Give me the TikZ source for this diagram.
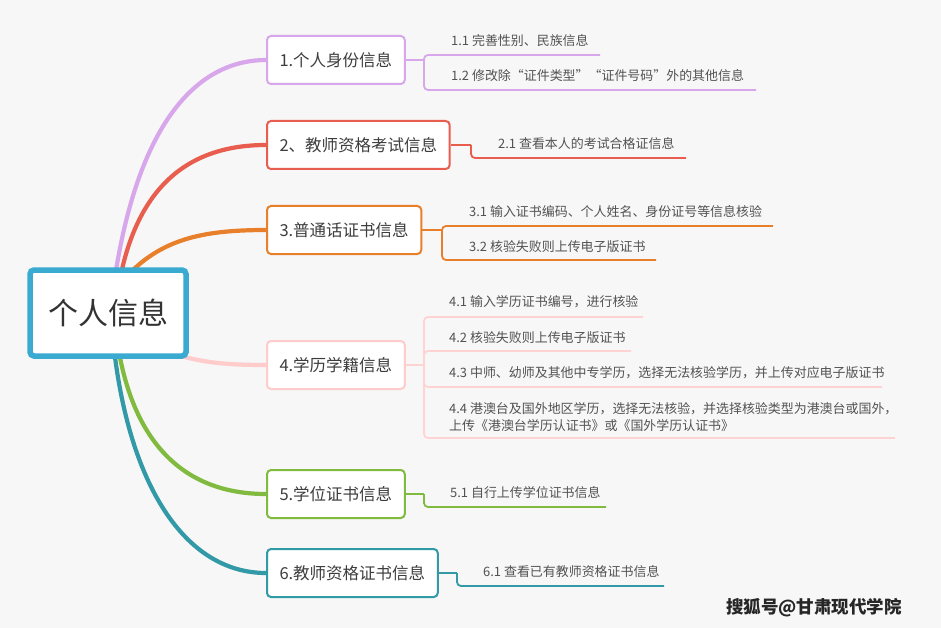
\documentclass[tikz,border=0pt]{standalone}
\usepackage{fontspec}
\setmainfont{Noto Sans CJK SC}
\usetikzlibrary{backgrounds}
\begin{document}
\begin{tikzpicture}[x=1pt,y=-1pt,
  l1/.style={draw=#1,line width=2pt,fill=white,rounded corners=4pt,anchor=west,
    minimum height=48pt,inner xsep=12.5pt,font=\fontsize{16.5}{18}\selectfont,text=black!76},
  br/.style={draw=#1,line width=4.2pt,line cap=round},
  sub/.style={draw=#1,line width=1.8pt,rounded corners=4pt},
  ct/.style={anchor=west,inner sep=0pt,font=\fontsize{12.95}{17.5}\selectfont,text=black!68,align=left}]
\definecolor{bgc}{HTML}{F7F7F7}
\definecolor{cpur}{HTML}{D8A6EA}
\definecolor{cred}{HTML}{E85D4D}
\definecolor{cora}{HTML}{E87F2B}
\definecolor{cpink}{HTML}{FFCBCB}
\definecolor{cgrn}{HTML}{80BA3F}
\definecolor{cteal}{HTML}{3299A6}
\definecolor{croot}{HTML}{3AAAD1}
\useasboundingbox (0,0) rectangle (941,628);

% level-1 boxes
\node[l1=cpur]  (b1) at (266,60)  {1.个人身份信息};
\node[l1=cred]  (b2) at (266,145) {2、教师资格考试信息};
\node[l1=cora]  (b3) at (266,230) {3.普通话证书信息};
\node[l1=cpink] (b4) at (266,365) {4.学历学籍信息};
\node[l1=cgrn]  (b5) at (266,494) {5.学位证书信息};
\node[l1=cteal] (b6) at (266,573) {6.教师资格证书信息};

% root
\node[draw=croot,line width=5.5pt,fill=white,rounded corners=4pt,
  minimum width=156pt,minimum height=86pt,
  font=\fontsize{30}{34}\selectfont,text=black!80] (root) at (108,313) {个人信息};

% main branches start points (hidden under the root)
\coordinate (s1) at (113,290);
\coordinate (s2) at (118,290);
\coordinate (s3) at (125,278);
\coordinate (s4) at (150,345);
\coordinate (s5) at (117,340);
\coordinate (s6) at (113,340);

\begin{scope}[on background layer]
\fill[bgc] (0,0) rectangle (941,628);
\draw[br=cpur]  (s1) .. controls (138,110) and (205,60) .. (b1.west);
\draw[br=cred]  (s2) .. controls (135,185) and (190,145) .. (b2.west);
\draw[br=cora]  (s3) .. controls (160,240) and (200,230) .. (b3.west);
\draw[br=cpink] (s4) .. controls (190,362) and (220,365) .. (b4.west);
\draw[br=cgrn]  (s5) .. controls (133,450) and (190,494) .. (b5.west);
\draw[br=cteal] (s6) .. controls (128,485) and (185,573) .. (b6.west);
\end{scope}

% sub-topic end points
\coordinate (k1) at (424,60);
\coordinate (u11) at (600,55);
\coordinate (u12) at (756,90);
\coordinate (k2) at (471,145);
\coordinate (u21) at (686,158);
\coordinate (k3) at (442,230);
\coordinate (u31) at (773,226);
\coordinate (u32) at (656,260);
\coordinate (k4) at (424,365);
\coordinate (u41) at (643,317);
\coordinate (u42) at (631,351);
\coordinate (u43) at (882,387);
\coordinate (u44) at (895,438);
\coordinate (k5) at (424,494);
\coordinate (u51) at (606,507);
\coordinate (k6) at (457,573);
\coordinate (u61) at (664,586);

\draw[sub=cpur] (b1.east) -- (k1);
\draw[sub=cpur] (k1) |- (u11);
\draw[sub=cpur] (k1) |- (u12);
\draw[sub=cred] (b2.east) -- (k2);
\draw[sub=cred] (k2) |- (u21);
\draw[sub=cora] (b3.east) -- (k3);
\draw[sub=cora] (k3) |- (u31);
\draw[sub=cora] (k3) |- (u32);
\draw[sub=cpink!85] (b4.east) -- (k4);
\draw[sub=cpink!85] (k4) |- (u41);
\draw[sub=cpink!85] (k4) |- (u42);
\draw[sub=cpink!85] (k4) |- (u43);
\draw[sub=cpink!85] (k4) |- (u44);
\draw[sub=cgrn] (b5.east) -- (k5);
\draw[sub=cgrn] (k5) |- (u51);
\draw[sub=cteal] (b6.east) -- (k6);
\draw[sub=cteal] (k6) |- (u61);

% sub-topic texts
\node[ct] (t11) at (451,41) {1.1 完善性别、民族信息};
\node[ct] (t12) at (451,76) {1.2 修改除“证件类型”“证件号码”外的其他信息};
\node[ct] (t21) at (498,144) {2.1 查看本人的考试合格证信息};
\node[ct] (t31) at (469,212) {3.1 输入证书编码、个人姓名、身份证号等信息核验};
\node[ct] (t32) at (469,247) {3.2 核验失败则上传电子版证书};
\node[ct] (t41) at (449,302) {4.1 输入学历证书编号，进行核验};
\node[ct] (t42) at (449,338) {4.2 核验失败则上传电子版证书};
\node[ct] (t43) at (449,373) {4.3 中师、幼师及其他中专学历，选择无法核验学历，并上传对应电子版证书};
\node[ct] (t44) at (449,417) {4.4 港澳台及国外地区学历，选择无法核验，并选择核验类型为港澳台或国外，\\上传《港澳台学历认证书》或《国外学历认证书》};
\node[ct] (t51) at (450,493) {5.1 自行上传学位证书信息};
\node[ct] (t61) at (483,572) {6.1 查看已有教师资格证书信息};

% watermark
\node[anchor=west,inner sep=0pt,font=\fontsize{17.5}{20}\selectfont\bfseries,text=black!85] (wm) at (726,608) {搜狐号@甘肃现代学院};
\end{tikzpicture}
\end{document}
